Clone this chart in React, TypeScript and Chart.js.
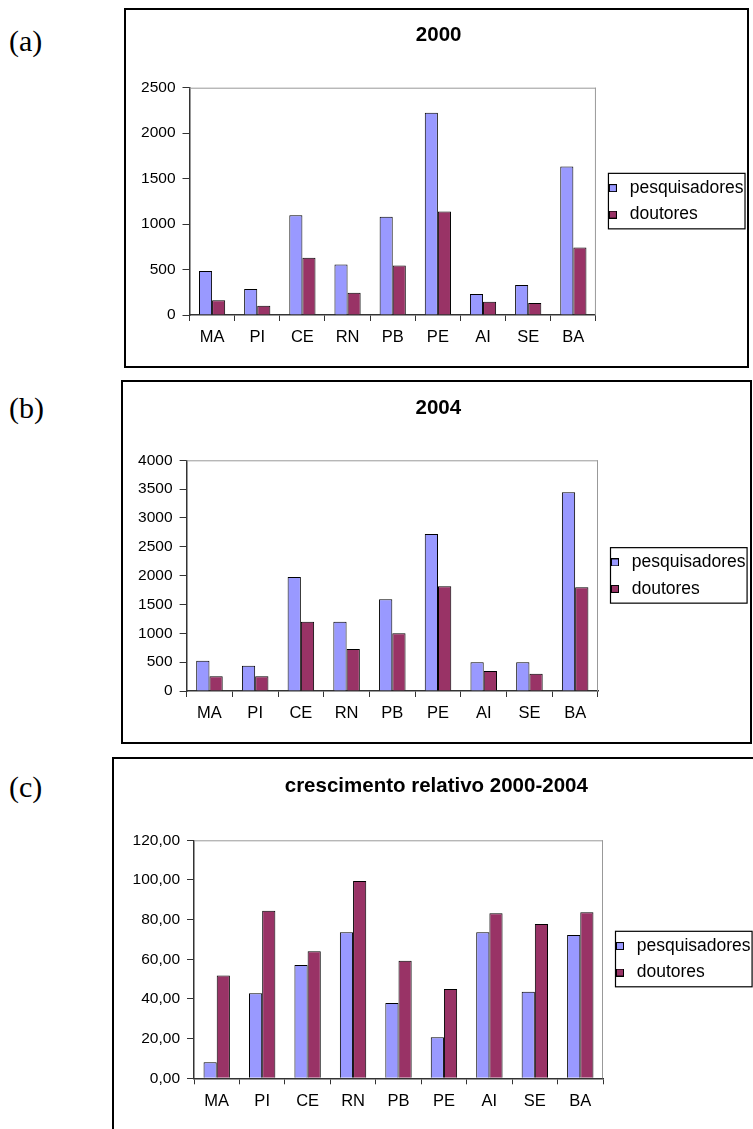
import React, { useEffect, useRef } from "react";
import { Chart, registerables } from "chart.js";

Chart.register(...registerables);

// ---------- data ----------
const categories = ["MA", "PI", "CE", "RN", "PB", "PE", "AI", "SE", "BA"];
const seriesNames = ["pesquisadores", "doutores"];

const pesquisadores2000 = [483, 285, 1098, 556, 1080, 2225, 231, 329, 1632];
const doutores2000 = [161, 102, 630, 245, 545, 1138, 146, 132, 743];

const pesquisadores2004 = [526, 439, 1977, 1202, 1590, 2723, 497, 497, 3445];
const doutores2004 = [254, 254, 1202, 728, 1000, 1815, 347, 301, 1798];

const pesquisadoresCresc = [8.07, 42.9, 57.1, 73.6, 38.0, 20.7, 73.6, 43.7, 72.3];
const doutoresCresc = [51.8, 84.5, 64.0, 99.5, 59.3, 45.0, 83.2, 77.8, 83.7];

const chartTitles = ["2000", "2004", "crescimento relativo 2000-2004"];
const panelLabels = ["(a)", "(b)", "(c)"];
const yMaxes = [2500, 4000, 120];
const ySteps = [500, 500, 20];
const yDecimalComma = [false, false, true];

// ---------- styles / layout ----------
const SANS = "'Liberation Sans', Arial, sans-serif";
const COLOR_PESQ = "#9999FF";
const COLOR_DOUT = "#993366";

type Layout = {
  box: { left: number; top: number; width: number; height: number };
  plot: { left: number; right: number; top: number; bottom: number };
  titleCenter: number;
  labelTop: number;
};

const layouts: Layout[] = [
  {
    box: { left: 124, top: 8, width: 625, height: 360 },
    plot: { left: 65.5, right: 473, top: 79.7, bottom: 307 },
    titleCenter: 27,
    labelTop: 25.5,
  },
  {
    box: { left: 121, top: 380, width: 631, height: 364 },
    plot: { left: 65.6, right: 477, top: 80.3, bottom: 311 },
    titleCenter: 28,
    labelTop: 392.5,
  },
  {
    box: { left: 112, top: 757, width: 650, height: 375 },
    plot: { left: 82, right: 491, top: 83.3, bottom: 321.3 },
    titleCenter: 29,
    labelTop: 771.5,
  },
];

function makeSwatch(color: string): HTMLCanvasElement {
  const c = document.createElement("canvas");
  c.width = 8;
  c.height = 8;
  const g = c.getContext("2d")!;
  g.fillStyle = color;
  g.fillRect(0, 0, 8, 8);
  g.strokeStyle = "#000";
  g.lineWidth = 1;
  g.strokeRect(0.5, 0.5, 7, 7);
  return c;
}

const framePlugin = {
  id: "excelFrame",
  afterDraw(chart: any) {
    const { ctx, chartArea } = chart;
    ctx.save();
    // light gray top and right border of plot area
    ctx.strokeStyle = "#999999";
    ctx.lineWidth = 1;
    ctx.beginPath();
    ctx.moveTo(chartArea.left, chartArea.top + 0.5);
    ctx.lineTo(chartArea.right, chartArea.top + 0.5);
    ctx.moveTo(chartArea.right - 0.5, chartArea.top);
    ctx.lineTo(chartArea.right - 0.5, chartArea.bottom);
    ctx.stroke();
    // legend frame
    const legend = chart.legend;
    if (legend && legend.legendHitBoxes && legend.legendHitBoxes.length) {
      const hb = legend.legendHitBoxes;
      let l = Infinity, r = -Infinity, t = Infinity, b = -Infinity;
      for (const h of hb) {
        l = Math.min(l, h.left);
        r = Math.max(r, h.left + h.width);
        t = Math.min(t, h.top);
        b = Math.max(b, h.top + h.height);
      }
      ctx.strokeStyle = "#000";
      ctx.lineWidth = 1.2;
      ctx.strokeRect(l + 3.5, t - 6, r - l - 2, b - t + 11.5);
    }
    ctx.restore();
  },
};

function Panel({ idx }: { idx: number }) {
  const ref = useRef<HTMLCanvasElement | null>(null);
  const L = layouts[idx];
  useEffect(() => {
    if (!ref.current) return;
    const dataSets = [
      [pesquisadores2000, doutores2000],
      [pesquisadores2004, doutores2004],
      [pesquisadoresCresc, doutoresCresc],
    ][idx];
    const swatches = [makeSwatch(COLOR_PESQ), makeSwatch(COLOR_DOUT)];
    const titleSize = 20.5;
    const titleLH = titleSize * 1.2;
    const padTop = L.titleCenter - titleLH / 2;
    const padBottom = L.plot.top - padTop - titleLH;
    const xHeight = L.box.height - L.plot.bottom;
    const tickFontY = { family: SANS, size: 15.5 };
    const tickFontX = { family: SANS, size: 16.5 };
    const chart = new Chart(ref.current, {
      type: "bar",
      data: {
        labels: categories,
        datasets: [
          {
            label: seriesNames[0],
            data: dataSets[0],
            backgroundColor: COLOR_PESQ,
            borderColor: "#000",
            borderWidth: 1,
            categoryPercentage: 0.58,
            barPercentage: 1,
          },
          {
            label: seriesNames[1],
            data: dataSets[1],
            backgroundColor: COLOR_DOUT,
            borderColor: "#000",
            borderWidth: 1,
            categoryPercentage: 0.58,
            barPercentage: 1,
          },
        ],
      },
      options: {
        responsive: false,
        animation: false,
        devicePixelRatio: 1,
        layout: { padding: { left: 0, top: 0, right: 0, bottom: 0 } },
        plugins: {
          title: {
            display: true,
            text: chartTitles[idx],
            color: "#000",
            font: { family: SANS, size: titleSize, weight: "bold" },
            padding: { top: padTop, bottom: padBottom },
          },
          legend: {
            display: true,
            position: "right",
            fullSize: false,
            align: "center",
            labels: {
              usePointStyle: true,
              pointStyleWidth: 16,
              boxWidth: 8,
              boxHeight: 8,
              color: "#000",
              font: { family: SANS, size: 17.5 },
              padding: 9,
              generateLabels: (ch: any) =>
                (Chart as any).defaults.plugins.legend.labels
                  .generateLabels(ch)
                  .map((it: any, i: number) => ({ ...it, pointStyle: swatches[i] })),
            },
          },
          tooltip: { enabled: false },
        },
        scales: {
          x: {
            grid: {
              offset: true,
              drawOnChartArea: false,
              drawTicks: true,
              tickLength: 6,
              color: "#333",
              lineWidth: 1,
            },
            border: { color: "#333", width: 1.5 },
            ticks: {
              color: "#000",
              font: tickFontX,
              padding: 7,
              maxRotation: 0,
              autoSkip: false,
            },
            afterFit: (s: any) => {
              s.height = xHeight;
            },
          },
          y: {
            min: 0,
            max: yMaxes[idx],
            grid: {
              drawOnChartArea: false,
              drawTicks: true,
              tickLength: 7,
              color: "#333",
              lineWidth: 1,
            },
            border: { color: "#333", width: 1.5 },
            ticks: {
              stepSize: ySteps[idx],
              color: "#000",
              font: tickFontY,
              padding: 7,
              callback: (v: any) =>
                yDecimalComma[idx]
                  ? Number(v).toFixed(2).replace(".", ",")
                  : String(v),
            },
            afterFit: (s: any) => {
              s.width = L.plot.left;
            },
          },
        },
      },
      plugins: [framePlugin],
    } as any);
    const diff = chart.chartArea.right - L.plot.right;
    if (Math.abs(diff) > 0.01) {
      (chart.options as any).layout.padding = { left: 0, top: 0, bottom: 0, right: diff };
      chart.update();
    }
    return () => chart.destroy();
  }, [idx]);

  return (
    <>
      <div
        style={{
          position: "absolute",
          left: 9,
          top: L.labelTop,
          fontFamily: "'Liberation Serif', 'Times New Roman', serif",
          fontSize: 30,
          lineHeight: "30px",
          color: "#000",
        }}
      >
        {panelLabels[idx]}
      </div>
      <canvas
        ref={ref}
        width={L.box.width}
        height={L.box.height}
        style={{
          position: "absolute",
          left: L.box.left,
          top: L.box.top,
          width: L.box.width,
          height: L.box.height,
        }}
      />
      <div
        style={{
          position: "absolute",
          left: L.box.left,
          top: L.box.top,
          width: L.box.width,
          height: L.box.height,
          border: "2px solid #000",
          boxSizing: "border-box",
          pointerEvents: "none",
        }}
      />
    </>
  );
}

export default function App() {
  return (
    <div
      style={{
        position: "fixed",
        left: 0,
        top: 0,
        width: 753,
        height: 1129,
        overflow: "hidden",
        background: "#fff",
      }}
    >
      <Panel idx={0} />
      <Panel idx={1} />
      <Panel idx={2} />
    </div>
  );
}
